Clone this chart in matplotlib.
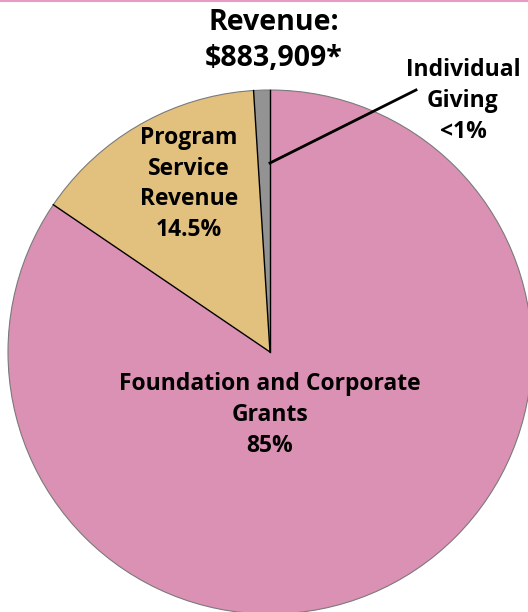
import numpy as np
import matplotlib.pyplot as plt
from matplotlib.lines import Line2D
from matplotlib.patches import Circle

# revenue shares (percent), drawn counter-clockwise from 12 o'clock
categories = ["Individual Giving", "Program Service Revenue", "Foundation and Corporate Grants"]
shares = [1.0, 14.5, 84.5]
share_labels = ["<1%", "14.5%", "85%"]
colors = ["#939393", "#E2C17F", "#DB91B4"]
title_lines = ["Revenue:", "$883,909*"]

W, H = 528, 612
plt.rcParams['font.family'] = ['Open Sans', 'DejaVu Sans']

fig = plt.figure(figsize=(W / 100, H / 100), dpi=100)
ax = fig.add_axes([0, 0, 1, 1])

cx, cy, r = 270, H - 352, 262
wedges, _ = ax.pie(shares, colors=colors, startangle=90, counterclock=True,
                   center=(cx, cy), radius=r,
                   wedgeprops=dict(edgecolor='none', linewidth=0))

# outer rim in thin grey
ax.add_patch(Circle((cx, cy), r, facecolor='none', edgecolor='#7a7a7a', linewidth=0.8))

# black separators between slices
for w in wedges:
    t = np.deg2rad(w.theta1)
    ax.plot([cx, cx + r * np.cos(t)], [cy, cy + r * np.sin(t)], color='black', lw=1.0)

ax.set_xlim(0, W)
ax.set_ylim(0, H)
ax.set_aspect('equal')
ax.axis('off')

txt = dict(ha='center', va='center', fontweight='bold', color='black')

# title
ax.text(274, H - 23, title_lines[0], fontsize=20.5, **txt)
ax.text(274, H - 59, title_lines[1], fontsize=20.5, **txt)

# slice labels
lab = dict(fontsize=16.5, linespacing=1.38, **txt)
ax.text(189, H - 184, "Program\nService\nRevenue\n" + share_labels[1], **lab)
ax.text(270, H - 415, "Foundation and Corporate\nGrants\n" + share_labels[2], **lab)
ax.text(463, H - 101, "Individual\nGiving\n" + share_labels[0], **lab)

# leader line for the small slice
t0 = np.deg2rad(wedges[0].theta1)
sx, sy = cx + 189 * np.cos(t0), cy + 189 * np.sin(t0)
ax.plot([sx, 416], [sy, H - 90], color='black', lw=2)

# pink rule along the top edge
fig.add_artist(Line2D([0, 1], [1 - 1 / H, 1 - 1 / H], color='#E99BC7', lw=1.5,
                      transform=fig.transFigure))

fig.savefig("out.png", dpi=100)
